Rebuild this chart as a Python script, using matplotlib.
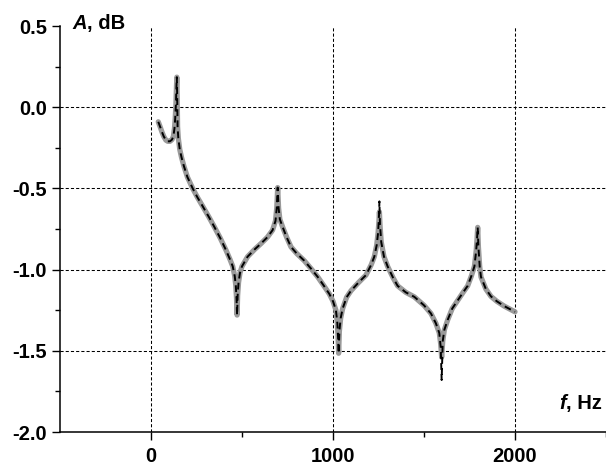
import matplotlib
matplotlib.use("Agg")
import matplotlib.pyplot as plt

plt.rcParams['font.family'] = ['Liberation Sans', 'DejaVu Sans']
plt.rcParams['font.weight'] = 'bold'

# frequency, Hz
freq = [40, 50, 60, 70, 82, 92, 104, 115, 123, 129, 133, 137, 140, 142, 144, 146,
        150, 158, 168, 180, 200, 229, 255, 284, 320, 348, 380, 412, 435, 449, 460,
        466, 470, 473, 476, 481, 489, 500, 531, 570, 604, 640, 668, 684, 691, 696,
        701, 708, 723, 745, 769, 800, 842, 880, 916, 950, 980, 1000, 1016, 1024,
        1028, 1031, 1035, 1042, 1053, 1075, 1099, 1140, 1181, 1210, 1227, 1240,
        1248, 1253, 1255, 1258, 1265, 1280, 1300, 1330, 1355, 1400, 1447, 1500,
        1538, 1565, 1584, 1592, 1597, 1603, 1612, 1630, 1655, 1685, 1715, 1740,
        1760, 1777, 1787, 1792, 1795, 1799, 1806, 1813, 1840, 1868, 1900, 1941, 2000]

# measured amplitude (grey), dB
a_meas = [-0.09, -0.12, -0.152, -0.18, -0.203, -0.21, -0.21, -0.2, -0.18, -0.13,
          -0.07, 0.02, 0.13, 0.185, 0.06, -0.12, -0.19, -0.26, -0.31, -0.36, -0.43,
          -0.50, -0.555, -0.61, -0.68, -0.737, -0.805, -0.88, -0.94, -0.98, -1.04,
          -1.10, -1.18, -1.28, -1.16, -1.08, -1.02, -0.98, -0.92, -0.875, -0.84,
          -0.80, -0.757, -0.70, -0.62, -0.495, -0.62, -0.69, -0.737, -0.80, -0.86,
          -0.90, -0.945, -0.995, -1.045, -1.10, -1.15, -1.195, -1.25, -1.33, -1.42,
          -1.515, -1.38, -1.30, -1.24, -1.17, -1.13, -1.08, -1.034, -0.97, -0.92,
          -0.85, -0.77, -0.69, -0.645, -0.72, -0.83, -0.92, -0.98, -1.05, -1.10,
          -1.14, -1.168, -1.22, -1.27, -1.33, -1.39, -1.46, -1.54, -1.44, -1.37,
          -1.31, -1.24, -1.19, -1.14, -1.10, -1.04, -0.98, -0.88, -0.80, -0.74,
          -0.86, -0.98, -1.045, -1.12, -1.165, -1.195, -1.225, -1.26]

# calculated amplitude (black dashed), dB
a_calc = [-0.09, -0.12, -0.152, -0.18, -0.203, -0.21, -0.21, -0.2, -0.18, -0.13,
          -0.07, 0.02, 0.13, 0.185, 0.06, -0.12, -0.19, -0.26, -0.31, -0.36, -0.43,
          -0.50, -0.555, -0.61, -0.68, -0.737, -0.805, -0.88, -0.94, -0.98, -1.04,
          -1.10, -1.18, -1.28, -1.16, -1.08, -1.02, -0.98, -0.92, -0.875, -0.84,
          -0.80, -0.757, -0.70, -0.62, -0.495, -0.62, -0.69, -0.737, -0.80, -0.86,
          -0.90, -0.945, -0.995, -1.045, -1.10, -1.15, -1.195, -1.25, -1.33, -1.42,
          -1.515, -1.38, -1.30, -1.24, -1.17, -1.13, -1.08, -1.034, -0.97, -0.92,
          -0.85, -0.77, -0.66, -0.58, -0.72, -0.83, -0.92, -0.98, -1.05, -1.10,
          -1.14, -1.168, -1.22, -1.27, -1.33, -1.39, -1.48, -1.68, -1.44, -1.37,
          -1.31, -1.24, -1.19, -1.14, -1.10, -1.04, -0.98, -0.88, -0.80, -0.74,
          -0.86, -0.98, -1.045, -1.12, -1.165, -1.195, -1.225, -1.26]

x_major = [0, 1000, 2000]
x_minor = [500, 1500, 2500]
x_labels = ['0', '1000', '2000']
y_major = [0.5, 0.0, -0.5, -1.0, -1.5, -2.0]
y_minor = [0.25, -0.25, -0.75, -1.25, -1.75]
y_labels = ['0.5', '0.0', '-0.5', '-1.0', '-1.5', '-2.0']
x_grid = [0, 1000, 2000]
y_grid = [0.0, -0.5, -1.0, -1.5]

fig = plt.figure(figsize=(6.06, 4.66), dpi=100)
ax = fig.add_axes([60 / 606, 34 / 466, 546 / 606, 406 / 466])

for gx in x_grid:
    ax.axvline(gx, color='black', lw=0.75, ls=(0, (3, 2)), zorder=1)
for gy in y_grid:
    ax.axhline(gy, color='black', lw=0.75, ls=(0, (3, 2)), zorder=1)

ax.plot(freq, a_meas, color='#9a9a9a', lw=3.8, solid_capstyle='round',
        solid_joinstyle='round', zorder=2)
ax.plot(freq, a_calc, color='black', lw=1.4, ls=(0, (3.5, 2.2)), zorder=3)

ax.set_xlim(-500, 2500)
ax.set_ylim(-2.0, 0.5)
ax.spines['top'].set_visible(False)
ax.spines['right'].set_visible(False)
ax.spines['left'].set_linewidth(1.1)
ax.spines['bottom'].set_linewidth(1.1)

fs = 14.5
ax.set_xticks(x_major)
ax.set_xticklabels(x_labels)
ax.set_xticks(x_minor, minor=True)
ax.set_yticks(y_major)
ax.set_yticklabels(y_labels)
ax.set_yticks(y_minor, minor=True)
ax.tick_params(which='major', length=5.5, width=1.0, labelsize=fs, pad=4)
ax.tick_params(which='minor', length=3.5, width=1.0)
ax.tick_params(axis='x', which='major', pad=5)

ta = ax.text(0.022, 1.005, 'A', transform=ax.transAxes, fontsize=fs,
             fontweight='bold', fontstyle='italic', ha='left', va='center')
ax.annotate(', dB', xy=(1, 0), xycoords=ta, fontsize=fs, fontweight='bold',
            ha='left', va='bottom')

th = ax.text(0.993, 0.071, ', Hz', transform=ax.transAxes, fontsize=fs,
             fontweight='bold', ha='right', va='center')
ax.annotate('f', xy=(0, 0), xycoords=th, fontsize=fs, fontweight='bold',
            fontstyle='italic', ha='right', va='bottom')

fig.savefig('out.png', dpi=100)
